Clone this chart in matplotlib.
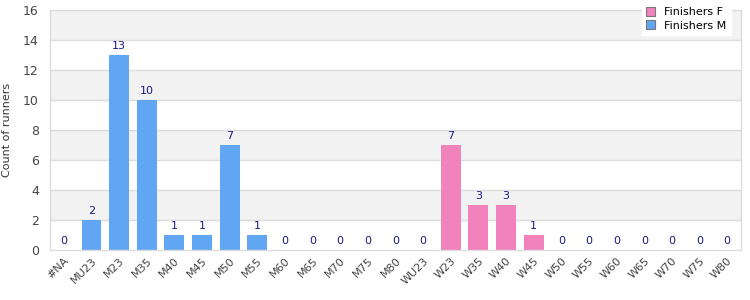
import numpy as np
import matplotlib.pyplot as plt
from matplotlib.patches import Patch

categories = ['#NA', 'MU23', 'M23', 'M35', 'M40', 'M45', 'M50', 'M55', 'M60',
              'M65', 'M70', 'M75', 'M80', 'WU23', 'W23', 'W35', 'W40', 'W45',
              'W50', 'W55', 'W60', 'W65', 'W70', 'W75', 'W80']
finishers_m = [0, 2, 13, 10, 1, 1, 7, 1, 0, 0, 0, 0, 0, 0, 0, 0, 0, 0, 0, 0, 0, 0, 0, 0, 0]
finishers_f = [0, 0, 0, 0, 0, 0, 0, 0, 0, 0, 0, 0, 0, 0, 7, 3, 3, 1, 0, 0, 0, 0, 0, 0, 0]

blue = '#60a6f3'
pink = '#f282bb'
grid_c = '#dcdcdc'

fig = plt.figure(figsize=(7.5, 3), dpi=100)
ax = fig.add_axes([0.0667, 0.1667, 0.9213, 0.8])

x = np.arange(len(categories))
m = np.array(finishers_m)
f = np.array(finishers_f)

# alternating bands
for lo in range(2, 16, 4):
    ax.axhspan(lo, lo + 2, color='#f2f2f2', zorder=0, lw=0)
for y in range(2, 16, 2):
    ax.axhline(y, color=grid_c, lw=1, zorder=1)

ax.bar(x, m, width=0.72, color=blue, zorder=2)
ax.bar(x, f, width=0.72, bottom=m, color=pink, zorder=2)

tot = m + f
for xi, v in zip(x, tot):
    ax.text(xi, v + 0.25, str(v), ha='center', va='bottom', fontsize=8,
            color='#1a1a8a', zorder=3)

ax.set_xlim(-0.5, len(categories) - 0.5)
ax.set_ylim(0, 16)
ax.set_yticks(range(0, 17, 2))
ax.set_xticks(x)
ax.set_xticklabels(categories, rotation=45, ha='right', rotation_mode='anchor',
                   fontsize=8, color='#444444')
ax.tick_params(axis='y', labelsize=9, colors='#444444', length=0, pad=8)
ax.tick_params(axis='x', length=0, pad=4)
ax.set_ylabel('Count of runners', fontsize=8, color='#333333', labelpad=8)
for s in ax.spines.values():
    s.set_color(grid_c)
    s.set_linewidth(1)

handles = [Patch(facecolor=pink, edgecolor='#777777', lw=0.8),
           Patch(facecolor=blue, edgecolor='#777777', lw=0.8)]
leg = fig.legend(handles, ['Finishers F', 'Finishers M'], loc='upper right',
                 bbox_to_anchor=(0.982, 1.01), fontsize=8, frameon=True,
                 fancybox=False, edgecolor='white', handlelength=0.8,
                 handleheight=0.8, labelspacing=0.3, borderpad=0.4,
                 handletextpad=0.8)
leg.get_frame().set_alpha(1)

fig.savefig('out.png', dpi=100)
